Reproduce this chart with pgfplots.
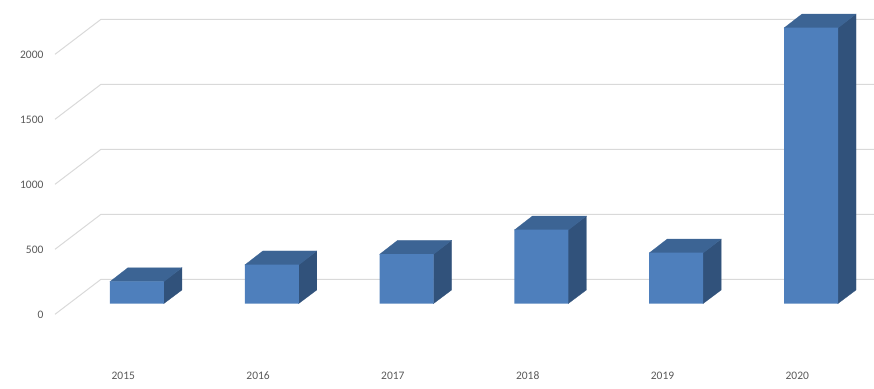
\documentclass[border=0pt]{standalone}
\usepackage{fontspec}
\setmainfont{Carlito}
\usepackage{pgfplots}
\pgfplotsset{compat=1.18}
\definecolor{barfront}{HTML}{4E7FBC}
\definecolor{bartop}{HTML}{3C6494}
\definecolor{barside}{HTML}{31527B}
\definecolor{gridc}{HTML}{D9D9D9}
\definecolor{labc}{HTML}{595959}
\begin{document}
\begin{tikzpicture}
\path[use as bounding box] (0,0) rectangle (874pt,388pt);
\begin{axis}[
  at={(0,0)}, anchor=south west,
  scale only axis, width=874pt, height=388pt,
  xmin=-1.0163, xmax=5.4674, ymin=-648.5, ymax=2336.2,
  axis line style={draw=none},
  major tick length=0pt,
  xtick={0,1,2,3,4,5},
  xticklabels={2015,2016,2017,2018,2019,2020},
  ytick={0,500,1000,1500,2000},
  /pgf/number format/assume math mode=true,
  /pgf/number format/set thousands separator={},
  tick label style={font=\fontsize{11.5}{12}\selectfont, text=labc},
  xticklabel style={anchor=center, xshift=-13.7pt, yshift=12pt},
  yticklabel style={anchor=east, xshift=47pt, yshift=-11.2pt},
]
% side wall and back wall gridlines
\addplot[gridc, line width=1pt] coordinates {(-0.6083,-81.5) (-0.2671,187.7) (5.4674,187.7)};
\addplot[gridc, line width=1pt] coordinates {(-0.6083,418.5) (-0.2671,687.7) (5.4674,687.7)};
\addplot[gridc, line width=1pt] coordinates {(-0.6083,918.5) (-0.2671,1187.7) (5.4674,1187.7)};
\addplot[gridc, line width=1pt] coordinates {(-0.6083,1418.5) (-0.2671,1687.7) (5.4674,1687.7)};
\addplot[gridc, line width=1pt] coordinates {(-0.6083,1918.5) (-0.2671,2187.7) (5.4674,2187.7)};
% side faces
\addplot[fill=barside, draw=barside, line width=0.2pt] coordinates {(0.1983,0) (0.3338,105.4) (0.3338,277.4) (0.1983,172)} -- cycle;
\addplot[fill=barside, draw=barside, line width=0.2pt] coordinates {(1.1983,0) (1.3338,105.4) (1.3338,405.4) (1.1983,300)} -- cycle;
\addplot[fill=barside, draw=barside, line width=0.2pt] coordinates {(2.1983,0) (2.3338,105.4) (2.3338,487.4) (2.1983,382)} -- cycle;
\addplot[fill=barside, draw=barside, line width=0.2pt] coordinates {(3.1983,0) (3.3338,105.4) (3.3338,674.4) (3.1983,569)} -- cycle;
\addplot[fill=barside, draw=barside, line width=0.2pt] coordinates {(4.1983,0) (4.3338,105.4) (4.3338,497.4) (4.1983,392)} -- cycle;
\addplot[fill=barside, draw=barside, line width=0.2pt] coordinates {(5.1983,0) (5.3338,105.4) (5.3338,2228.4) (5.1983,2123)} -- cycle;
% top faces
\addplot[fill=bartop, draw=bartop, line width=0.2pt] coordinates {(-0.2003,170) (-0.0668,277.4) (0.3338,277.4) (0.2003,170)} -- cycle;
\addplot[fill=bartop, draw=bartop, line width=0.2pt] coordinates {(0.7997,298) (0.9332,405.4) (1.3338,405.4) (1.2003,298)} -- cycle;
\addplot[fill=bartop, draw=bartop, line width=0.2pt] coordinates {(1.7997,380) (1.9332,487.4) (2.3338,487.4) (2.2003,380)} -- cycle;
\addplot[fill=bartop, draw=bartop, line width=0.2pt] coordinates {(2.7997,567) (2.9332,674.4) (3.3338,674.4) (3.2003,567)} -- cycle;
\addplot[fill=bartop, draw=bartop, line width=0.2pt] coordinates {(3.7997,390) (3.9332,497.4) (4.3338,497.4) (4.2003,390)} -- cycle;
\addplot[fill=bartop, draw=bartop, line width=0.2pt] coordinates {(4.7997,2121) (4.9332,2228.4) (5.3338,2228.4) (5.2003,2121)} -- cycle;
% front faces
\addplot[ybar, bar width=0.4006, bar shift=0pt, fill=barfront, draw=none] coordinates {(0,172) (1,300) (2,382) (3,569) (4,392) (5,2123)};
\end{axis}
\end{tikzpicture}
\end{document}
